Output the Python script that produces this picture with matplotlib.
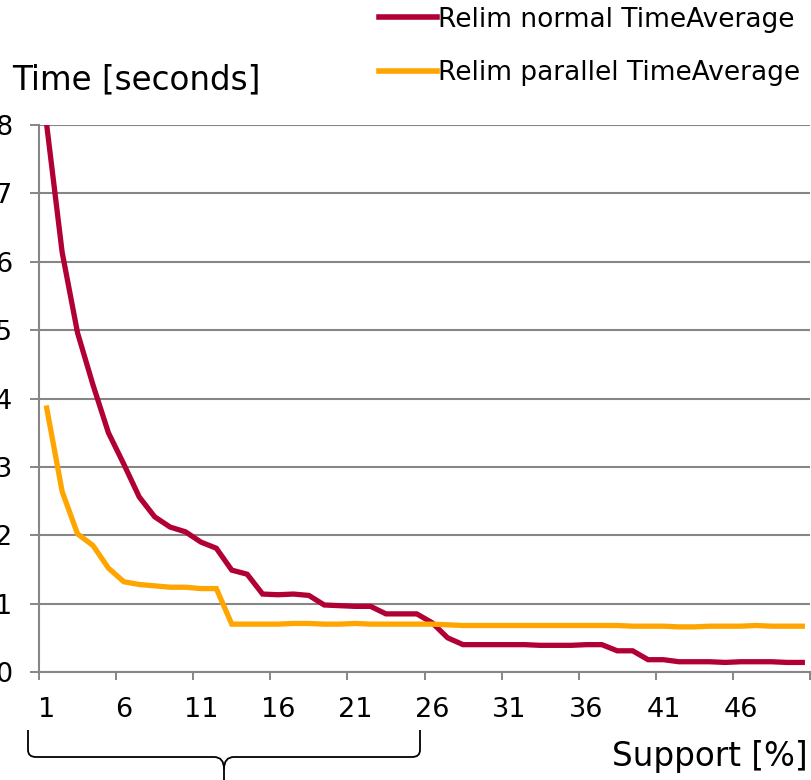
import numpy as np
import matplotlib
matplotlib.use('Agg')
import matplotlib.pyplot as plt
from matplotlib.path import Path
from matplotlib.patches import PathPatch

'''
    Data read off the chart
'''
support = list(range(1, 51))

relim_normal = [8.00, 6.14, 4.96, 4.20, 3.50, 3.04, 2.56, 2.27, 2.12, 2.05,
                1.90, 1.81, 1.49, 1.43, 1.14, 1.13, 1.14, 1.12, 0.98, 0.97,
                0.96, 0.96, 0.85, 0.85, 0.85, 0.72, 0.50, 0.40, 0.40, 0.40,
                0.40, 0.40, 0.39, 0.39, 0.39, 0.40, 0.40, 0.31, 0.31, 0.18,
                0.18, 0.15, 0.15, 0.15, 0.14, 0.15, 0.15, 0.15, 0.14, 0.14]

relim_parallel = [3.86, 2.64, 2.02, 1.85, 1.52, 1.32, 1.28, 1.26, 1.24, 1.24,
                  1.22, 1.22, 0.70, 0.70, 0.70, 0.70, 0.71, 0.71, 0.70, 0.70,
                  0.71, 0.70, 0.70, 0.70, 0.70, 0.70, 0.69, 0.68, 0.68, 0.68,
                  0.68, 0.68, 0.68, 0.68, 0.68, 0.68, 0.68, 0.68, 0.67, 0.67,
                  0.67, 0.66, 0.66, 0.67, 0.67, 0.67, 0.68, 0.67, 0.67, 0.67]

label_normal = 'Relim normal TimeAverage'
label_parallel = 'Relim parallel TimeAverage'

x_ticklabels = support[::5]
y_ticks = list(range(0, 9))

'''
    Plot
'''
W, H = 811, 780
fig = plt.figure(figsize=(W / 100, H / 100), dpi=100)

def fx(px):
    return px / W

def fy(py):
    return 1 - py / H

ax = fig.add_axes([fx(39), fy(672), fx(810) - fx(39), fy(125) - fy(672)])

gray = '#868686'
red = '#B10034'
orange = '#FFA500'

ax.plot(support, relim_normal, color=red, lw=3.8, label=label_normal,
        solid_joinstyle='miter', zorder=3)
ax.plot(support, relim_parallel, color=orange, lw=3.8, label=label_parallel,
        solid_joinstyle='miter', zorder=3)

ax.set_xlim(0.5, 50.5)
ax.set_ylim(0, 8)

# y axis: gridlines at integers
ax.set_yticks(y_ticks)
ax.yaxis.grid(True, color=gray, lw=1.5)
ax.set_axisbelow(True)
ax.tick_params(axis='y', direction='out', length=6.5, width=1.4, color=gray,
               pad=13, labelsize=19.5)

# x axis: ticks between categories, labels on categories
ax.set_xticks(np.arange(0.5, 51, 5))
ax.set_xticklabels([])
ax.set_xticks(x_ticklabels, minor=True)
ax.set_xticklabels([str(v) for v in x_ticklabels], minor=True)
ax.tick_params(axis='x', which='major', direction='out', length=6, width=1.4,
               color=gray)
ax.tick_params(axis='x', which='minor', length=0, pad=18, labelsize=19.5)

for s in ['top', 'right']:
    ax.spines[s].set_visible(False)
for s in ['left', 'bottom']:
    ax.spines[s].set_color(gray)
    ax.spines[s].set_linewidth(1.5)

# axis titles
fig.text(fx(12), fy(89), 'Time [seconds]', fontsize=23.5, va='baseline', ha='left')
fig.text(fx(808), fy(766), 'Support [%]', fontsize=23.5, va='baseline', ha='right')

# legend
leg = ax.legend(loc='upper left', bbox_to_anchor=(fx(376), fy(4)),
                bbox_transform=fig.transFigure, frameon=False,
                prop={'size': 19},
                handlelength=2.2, handletextpad=0.05, labelspacing=1.04,
                borderpad=0.1, borderaxespad=0)
for ln in leg.get_lines():
    ln.set_linewidth(4)

# brace under categories 1..26
verts = [(28, 730), (28, 750), (28, 757), (36, 757), (214, 757),
         (224, 757), (224, 769), (224, 780),
         (224, 769), (224, 757), (234, 757), (412, 757),
         (420, 757), (420, 750), (420, 730)]
codes = [Path.MOVETO, Path.LINETO, Path.CURVE3, Path.CURVE3, Path.LINETO,
         Path.CURVE3, Path.CURVE3, Path.LINETO,
         Path.MOVETO, Path.CURVE3, Path.CURVE3, Path.LINETO,
         Path.CURVE3, Path.CURVE3, Path.LINETO]
brace = Path([(fx(x), fy(y)) for x, y in verts], codes)
fig.patches.append(PathPatch(brace, transform=fig.transFigure, fill=False,
                             lw=1.3, color='black'))

plt.savefig('out.png', dpi=100)
